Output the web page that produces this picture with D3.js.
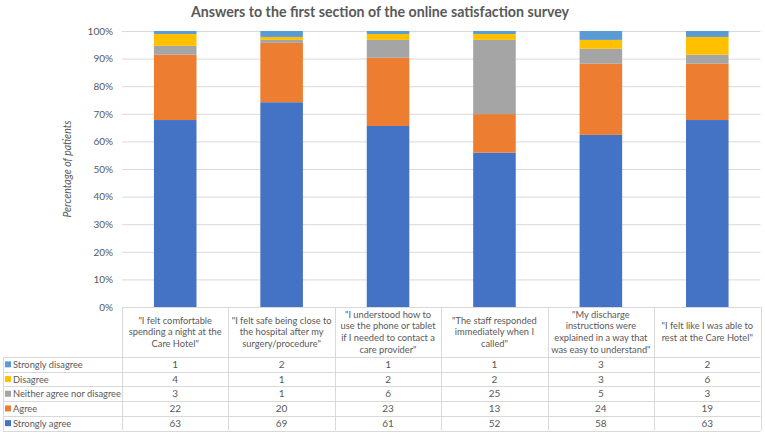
<!DOCTYPE html>
<html><head><meta charset="utf-8">
<script src="https://cdn.jsdelivr.net/npm/d3@7"></script>
<style>body{margin:0;background:#fff}svg{display:block}</style>
</head><body>
<svg id="c" width="765" height="434"></svg>
<script>
const categories = [
  ['"I felt comfortable', 'spending a night at the', 'Care Hotel"'],
  ['"I felt safe being close to', 'the hospital after my', 'surgery/procedure"'],
  ['"I understood how to', 'use the phone or tablet', 'if I needed to contact a', 'care provider"'],
  ['"The staff responded', 'immediately when I', 'called"'],
  ['"My discharge', 'instructions were', 'explained in a way that', 'was easy to understand"'],
  ['"I felt like I was able to', 'rest at the Care Hotel"']
];
const seriesNames = ["Strongly agree", "Agree", "Neither agree nor disagree", "Disagree", "Strongly disagree"];
const stronglyAgree = [63, 69, 61, 52, 58, 63];
const agree = [22, 20, 23, 13, 24, 19];
const neither = [3, 1, 6, 25, 5, 3];
const disagree = [4, 1, 2, 2, 3, 6];
const stronglyDisagree = [1, 2, 1, 1, 3, 2];
const colors = ["#4472C4", "#ED7D31", "#A5A5A5", "#FFC000", "#5B9BD5"];
const yTicks = [0, 0.1, 0.2, 0.3, 0.4, 0.5, 0.6, 0.7, 0.8, 0.9, 1];

const seriesValues = [stronglyAgree, agree, neither, disagree, stronglyDisagree];
const rows = categories.map((c, i) => {
  const r = {idx: i};
  seriesNames.forEach((s, j) => r[s] = seriesValues[j][i]);
  return r;
});

const svg = d3.select("#c");
const font = "Lato, 'Open Sans', sans-serif";
const textCol = "#595959";
const gridCol = "#D9D9D9";

const L = 122, R = 760.5, T = 31, B = 307;
const x = d3.scaleBand().domain(d3.range(categories.length)).range([L, R]).paddingInner(0.6).paddingOuter(0.3);
const cell = d3.scaleBand().domain(d3.range(categories.length)).range([L, R]).padding(0);
const y = d3.scaleLinear().domain([0, 1]).range([B, T]);

// title
svg.append("text").attr("x", 380).attr("y", 16.5).attr("text-anchor", "middle")
  .attr("font-family", font).attr("font-size", 14.2).attr("font-weight", "bold")
  .attr("fill", textCol).text("Answers to the first section of the online satisfaction survey");

// grid
const yAxis = d3.axisLeft(y).tickValues(yTicks).tickFormat(d3.format(".0%")).tickSize(-(R - L)).tickPadding(9);
const ga = svg.append("g").attr("transform", `translate(${L},0)`).call(yAxis);
ga.select(".domain").remove();
ga.selectAll(".tick line").attr("stroke", gridCol).attr("stroke-width", 1);
ga.selectAll(".tick text").attr("fill", textCol).attr("font-family", font).attr("font-size", 10);

// y title
svg.append("text").attr("transform", `translate(71,${(T + B) / 2}) rotate(-90)`)
  .attr("text-anchor", "middle").attr("font-family", font).attr("font-size", 10.5)
  .attr("font-style", "italic").attr("fill", textCol).text("Percentage of patients");

// bars
const stack = d3.stack().keys(seriesNames).offset(d3.stackOffsetExpand);
const stacked = stack(rows);
svg.append("g").selectAll("g").data(stacked).join("g")
  .attr("fill", (d, i) => colors[i])
  .selectAll("rect").data(d => d).join("rect")
  .attr("x", d => x(d.data.idx)).attr("width", x.bandwidth())
  .attr("y", d => y(d[1])).attr("height", d => y(d[0]) - y(d[1]));

// data table
const hTop = B, hBot = 357, rowH = 14.7;
const tableRows = seriesNames.slice().reverse();
const tableVals = seriesValues.slice().reverse();
const tableCols = colors.slice().reverse();
const tL = 3;
const tg = svg.append("g");
const tBot = hBot + rowH * tableRows.length;
tg.append("line").attr("x1", L).attr("x2", R).attr("y1", hTop + 0.5).attr("y2", hTop + 0.5).attr("stroke", gridCol);
for (let k = 0; k <= tableRows.length; k++) {
  const yy = Math.round(hBot + rowH * k) + 0.5;
  tg.append("line").attr("x1", tL).attr("x2", R).attr("y1", yy).attr("y2", yy).attr("stroke", gridCol);
}
tg.append("line").attr("x1", tL + 0.5).attr("x2", tL + 0.5).attr("y1", hBot).attr("y2", tBot).attr("stroke", gridCol);
d3.range(categories.length + 1).forEach(i => {
  const xx = Math.round(i < categories.length ? cell(i) : R) + 0.5;
  tg.append("line").attr("x1", xx).attr("x2", xx).attr("y1", hTop).attr("y2", tBot).attr("stroke", gridCol);
});
categories.forEach((lines, i) => {
  const cx = cell(i) + cell.bandwidth() / 2;
  const lh = 11.7;
  const y0 = (hTop + hBot) / 2 - (lines.length - 1) * lh / 2 + 3.3;
  const t = tg.append("text").attr("text-anchor", "middle").attr("font-family", font)
    .attr("font-size", 9.3).attr("fill", textCol);
  lines.forEach((ln, k) => t.append("tspan").attr("x", cx).attr("y", y0 + k * lh).text(ln));
});
tableRows.forEach((name, r) => {
  const cy = hBot + rowH * r + rowH / 2;
  tg.append("rect").attr("x", 5).attr("y", cy - 3).attr("width", 6).attr("height", 6).attr("fill", tableCols[r]);
  tg.append("text").attr("x", 13).attr("y", cy + 3.5).attr("font-family", font).attr("font-size", 9.3)
    .attr("fill", textCol).text(name);
  tableVals[r].forEach((v, i) => {
    tg.append("text").attr("x", cell(i) + cell.bandwidth() / 2).attr("y", cy + 3.5)
      .attr("text-anchor", "middle").attr("font-family", font).attr("font-size", 10)
      .attr("fill", textCol).text(v);
  });
});
</script>
</body></html>
